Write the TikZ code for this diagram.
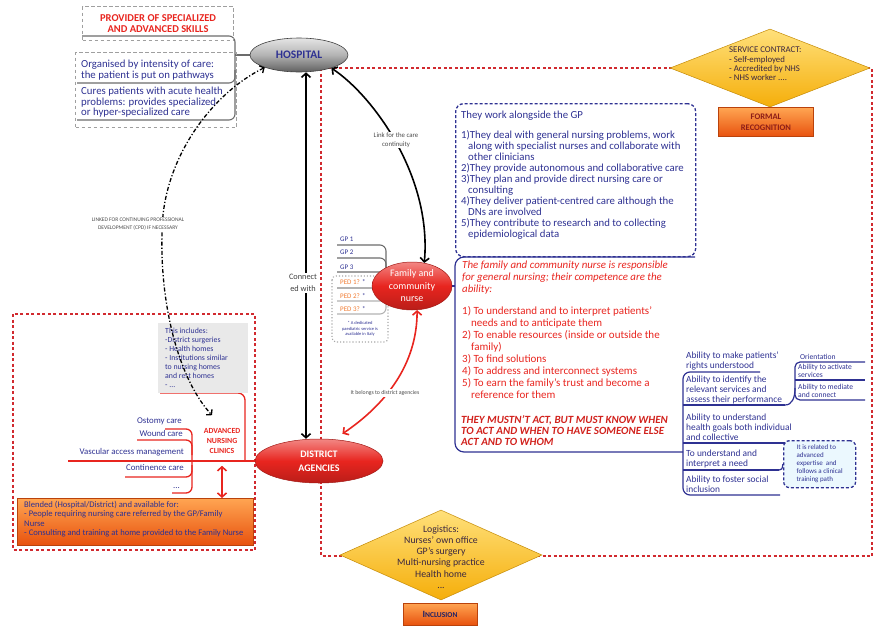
\documentclass[tikz,border=0pt]{standalone}
\usepackage{fontspec}
\setmainfont{Carlito}
\usetikzlibrary{shapes.geometric,arrows.meta}
\pgfdeclarelayer{bg}
\pgfsetlayers{bg,main}
\definecolor{navy}{HTML}{2E3192}
\definecolor{myred}{HTML}{E8251F}
\definecolor{dashred}{HTML}{D12A2F}
\definecolor{darkred}{HTML}{8C1D18}
\definecolor{diamtxt}{HTML}{3A2640}
\definecolor{goldA}{HTML}{FFE07A}
\definecolor{goldB}{HTML}{F5AE0A}
\definecolor{orA}{HTML}{FFA552}
\definecolor{orB}{HTML}{E8520E}
\definecolor{pedor}{HTML}{F07A30}
\newcommand\setfz[2]{\fontsize{#1}{#2}\selectfont}
\tikzset{
  reddash/.style={draw=dashred, line width=1.3pt, dash pattern=on 3pt off 2.5pt},
  graydash/.style={draw=gray!75, line width=1.2pt, dash pattern=on 3.5pt off 2.5pt},
  bluedash/.style={draw=navy, line width=1.3pt, dash pattern=on 3pt off 2pt},
  grayline/.style={draw=gray!85!black, line width=1.1pt},
  pedline/.style={draw=gray!60, line width=1.1pt},
  navyline/.style={draw=navy, line width=1.2pt},
  redline/.style={draw=myred, line width=1.3pt},
  txt/.style={inner sep=0pt, align=left},
  hospnode/.style={ellipse, inner sep=0pt, minimum width=98, minimum height=34, top color=gray!20, bottom color=gray!75!black, middle color=gray!60, draw=gray!50!black, line width=0.6pt, text=navy, font=\bfseries\setfz{11.5}{12}},
  redell/.style={ellipse, inner sep=0pt, align=center, top color=myred!55!white, bottom color=myred!80!black, middle color=myred, draw=myred!70!black, line width=0.5pt, text=white},
  diam/.style={diamond, inner sep=0pt, top color=goldA, bottom color=goldB, draw=goldB!80!black, line width=0.5pt},
  orbox/.style={rectangle, inner sep=0pt, top color=orA, bottom color=orB, draw=orB!80!black, line width=0.5pt},
  blkarrow/.style={draw=black, line width=1.6pt, arrows={Straight Barb[length=4pt,width=9pt]-Straight Barb[length=4pt,width=9pt]}},
  redarrow/.style={draw=myred, line width=1.6pt, arrows={Straight Barb[length=4pt,width=9pt]-Straight Barb[length=4pt,width=9pt]}},
  cpdarrow/.style={draw=black, line width=1.3pt, dash pattern=on 4pt off 2pt on 1.2pt off 2pt, arrows={Straight Barb[length=3.5pt,width=8pt]-Straight Barb[length=3.5pt,width=8pt]}},
  lbl/.style={fill=white, inner sep=1pt, align=center, text=gray!60!black},
}
\begin{document}
\begin{tikzpicture}[x=1pt,y=-1pt]
\useasboundingbox (0,0) rectangle (876,627);

% ---------- top left boxes
\node[graydash, minimum width=151, minimum height=34, anchor=north west, inner sep=0, align=center, text=myred, font=\bfseries\setfz{10.5}{11}] (prov) at (82,6) {PROVIDER OF SPECIALIZED\\AND ADVANCED SKILLS};
\node[graydash, anchor=north west, minimum width=161, minimum height=75, inner sep=0] (hbox) at (75,52) {};
\node[txt, anchor=north west, text=navy, font=\setfz{10.8}{11}] (hb1) at (81,60) {Organised by intensity of care:\\the patient is put on pathways};
\node[txt, anchor=north west, text=navy, font=\setfz{10.8}{10.5}] (hb2) at (81,87) {Cures patients with acute health\\problems: provides specialized\\or hyper-specialized care};

% ---------- main nodes
\node[hospnode] (hosp) at (299,55) {HOSPITAL};
\node[redell, minimum width=80, minimum height=48, font=\setfz{10}{12.5}] (nurse) at (412,286) {Family and\\community\\nurse};
\node[redell, minimum width=128, minimum height=44, font=\bfseries\setfz{10}{14}] (dist) at (319,461) {DISTRICT\\AGENCIES};

% ---------- service contract
\node[diam, minimum width=200, minimum height=78] (svc) at (770,68) {};
\node[txt, anchor=north west, text=diamtxt, font=\setfz{8.8}{9.3}] (svctxt) at (729,47) {SERVICE CONTRACT:\\- Self-employed\\- Accredited by NHS\\- NHS worker ....};
\node[orbox, minimum width=95, minimum height=29, align=center, text=darkred, font=\bfseries\setfz{8.5}{10.5}] (fr) at (766,122) {FORMAL\\RECOGNITION};

% ---------- GP box
\node[bluedash, rounded corners=8, anchor=north west, minimum width=240, minimum height=153, inner sep=0] (gpbox) at (455,103) {};
\node[txt, anchor=north west, text=navy, font=\setfz{10.8}{11}] (gptxt) at (461,111) {They work alongside the GP\\[9pt]
1)They deal with general nursing problems, work\\
\hspace*{7pt}along with specialist nurses and collaborate with\\
\hspace*{7pt}other clinicians\\
2)They provide autonomous and collaborative care\\
3)They plan and provide direct nursing care or\\
\hspace*{7pt}consulting\\
4)They deliver patient-centred care although the\\
\hspace*{7pt}DNs are involved\\
5)They contribute to research and to collecting\\
\hspace*{7pt}epidemiological data};

% ---------- red texts
\node[txt, anchor=north west, text=myred, font=\itshape\setfz{10.9}{12}] (redintro) at (462,261) {The family and community nurse is responsible\\for general nursing; their competence are the\\ability:};
\node[txt, anchor=north west, text=myred, font=\setfz{11}{12}] (redlist) at (462,306) {1) To understand and to interpret patients'\\\hspace*{9pt}needs and to anticipate them\\2) To enable resources (inside or outside the\\\hspace*{9pt}family)\\3) To find solutions\\4) To address and interconnect systems\\5) To earn the family's trust and become a\\\hspace*{9pt}reference for them};
\node[txt, anchor=north west, text=myred!90!black, font=\bfseries\itshape\setfz{11}{11}] (redcaps) at (461,415) {THEY MUSTN'T ACT, BUT MUST KNOW WHEN\\TO ACT AND WHEN TO HAVE SOMEONE ELSE\\ACT AND TO WHOM};

% ---------- abilities
\node[txt, anchor=south west, text=navy, font=\setfz{9.4}{10}] (ab1) at (686,370) {Ability to make patients'\\rights understood};
\node[txt, anchor=south west, text=navy, font=\setfz{9.4}{10}] (ab2) at (686,404) {Ability to identify the\\relevant services and\\assess their performance};
\node[txt, anchor=south west, text=navy, font=\setfz{9.4}{10}] (ab3) at (686,441) {Ability to understand\\health goals both individual\\and collective};
\node[txt, anchor=south west, text=navy, font=\setfz{9.4}{10}] (ab4) at (686,468) {To understand and\\interpret a need};
\node[txt, anchor=south west, text=navy, font=\setfz{9.4}{10}] (ab5) at (686,493) {Ability to foster social\\inclusion};
\node[txt, anchor=south west, text=navy, font=\setfz{7.6}{8.5}] (or0) at (800,360) {Orientation};
\node[txt, anchor=south west, text=navy, font=\setfz{7.6}{8.5}] (or1) at (798,378) {Ability to activate\\services};
\node[txt, anchor=south west, text=navy, font=\setfz{7.6}{8.5}] (or2) at (798,398) {Ability to mediate\\and connect};
\node[bluedash, fill=cyan!8, rounded corners=6, text=navy, font=\setfz{7}{8}, align=left, inner sep=2pt, minimum width=72, minimum height=47, anchor=north west] (expert) at (783,440) {It is related to\\advanced\\expertise\ \ and\\follows a clinical\\training path};

% ---------- GP list
\foreach \n/\yy in {1/239,2/252,3/267}
  \node[txt, anchor=west, text=navy, font=\setfz{7}{8}] (gp\n) at (340,\yy) {GP \n};
\foreach \n/\yy in {1/282,2/296,3/309}
  \node[txt, anchor=west, text=pedor, font=\setfz{7}{8}] (ped\n) at (340,\yy) {PED \n? \textcolor{navy}{*}};
\node[txt, align=center, text=navy, font=\setfz{4.5}{5.5}] (pednote) at (360,329) {* A dedicated\\paediatric service is\\available in Italy};

% ---------- left region
\node[fill=gray!17, anchor=north west, minimum width=90, minimum height=70, inner sep=0] (graybox) at (158,323) {};
\node[txt, anchor=north west, text=navy, font=\setfz{7.8}{9}] (inclist) at (165,328) {This includes:\\-District surgeries\\- Health homes\\- Institutions similar\\to nursing homes\\and rest homes\\- ...};
\node[txt, align=center, text=myred, font=\bfseries\setfz{7.8}{10}] (anc) at (222,441) {ADVANCED\\NURSING\\CLINICS};
\node[txt, anchor=base east, text=navy, font=\setfz{8.8}{10}] (ost) at (182,423) {Ostomy care};
\node[txt, anchor=base east, text=navy, font=\setfz{8.8}{10}] (wnd) at (183,436) {Wound care};
\node[txt, anchor=base east, text=navy, font=\setfz{8.8}{10}] (vasc) at (184,454) {Vascular access management};
\node[txt, anchor=base east, text=navy, font=\setfz{8.8}{10}] (cont) at (184,470) {Continence care};
\node[txt, anchor=base east, text=navy, font=\setfz{8.8}{10}] (more) at (180,488) {...};
\node[orbox, anchor=north west, minimum width=236, minimum height=47] (blend) at (17,498) {};
\node[txt, anchor=north west, text=navy, font=\setfz{8.6}{9.4}] (blendtxt) at (24,501) {Blended (Hospital/District) and available for:\\- People requiring nursing care referred by the GP/Family\\Nurse\\- Consulting and training at home provided to the Family Nurse};

% ---------- logistics
\node[diam, minimum width=202, minimum height=90] (logi) at (441,555) {};
\node[align=center, inner sep=0, text=diamtxt, font=\setfz{9.8}{11.2}] (logitxt) at (441,557) {Logistics:\\Nurses' own office\\GP's surgery\\Multi-nursing practice\\Health home\\...};
\node[orbox, minimum width=74, minimum height=22, text=navy!70!black, font=\bfseries\setfz{9.5}{10}] (inclbox) at (440,614) {I{\setfz{7.5}{10}NCLUSION}};

% ---------- background lines
\begin{pgfonlayer}{bg}
\draw[reddash] (321,68) rectangle (872,556);
\draw[reddash] (13,314) rectangle (255,550);
\draw[grayline, rounded corners=6] (82,36) -- (235,36) -- (235,120) -- (77,120);
\draw[grayline, rounded corners=6] (77,83) -- (235,83) -- (235,70);
\draw[grayline] (hosp.west) -- (235,55);
\foreach \yy in {245,258,272} \draw[grayline, rounded corners=6] (337,\yy) -- (386,\yy) -- (386,287);
\foreach \yy in {301,314} \draw[pedline, rounded corners=6] (337,\yy) -- (386,\yy) -- (386,287);
\draw[pedline] (337,288) -- (390,288);
\draw[gray!70, dotted, line width=1.1pt, rounded corners=4] (332,276) rectangle (388,342);
\draw[navyline, rounded corners=9] (695,257) -- (455,257) -- (455,452) -- (683,452);
\draw[navyline] (nurse.east) -- (455,286);
\draw[navyline, rounded corners=7] (760,372) -- (683,372) -- (683,495) -- (780,495);
\draw[navyline] (683,405) -- (785,405);
\draw[navyline] (683,443) -- (800,443);
\draw[navyline] (683,470) -- (779,470);
\draw[navyline] (785,405) .. controls (792,405) and (795,398) .. (795,388);
\draw[navyline, rounded corners=5] (865,362) -- (795,362) -- (795,400) -- (865,400);
\draw[navyline] (795,380) -- (865,380);
\draw[navyline] (779,470) .. controls (784,470) and (782,464) .. (expert.west);
\draw[redline, rounded corners=7] (160,393) -- (245,393) -- (245,461);
\draw[redline] (68,461) -- (dist.west);
\draw[redline, rounded corners=6] (165,429) -- (192,429) -- (192,493) -- (172,493);
\draw[redline, rounded corners=6] (137,440) -- (192,440) -- (192,455);
\draw[redline, rounded corners=6] (125,477) -- (192,477) -- (192,465);
\end{pgfonlayer}

% ---------- arrows
\draw[blkarrow] ([xshift=7pt]hosp.south) -- ([xshift=7pt]hosp.south |- dist.north);
\draw[blkarrow] (hosp.-22) .. controls (372,95) and (432,175) .. (nurse.62);
\draw[redarrow, shorten >=10pt] (nurse.-78) .. controls (417,365) and (385,405) .. (dist.55);
\draw[cpdarrow] (hosp.200) .. controls (215,92) and (170,150) .. (163,215) .. controls (157,290) and (175,375) .. ([shift={(-10pt,13pt)}]anc.north);
\draw[redarrow] ([yshift=-12pt]anc.south) -- (anc.south |- blend.north);

% ---------- arrow labels
\node[lbl, font=\setfz{8.3}{12}, text=black!75] (conn) at (303,283) {Connect\\ed with};
\node[lbl, font=\setfz{6.8}{8.5}] (linklbl) at (396,140) {Link for the care\\continuity};
\node[lbl, font=\setfz{5.8}{7}] (belong) at (385,393) {It belongs to district agencies};
\node[lbl, font=\setfz{5.5}{7.5}] (cpdlbl) at (138,224) {LINKED FOR CONTINUING PROFESSIONAL\\DEVELOPMENT (CPD) IF NECESSARY};
\end{tikzpicture}
\end{document}
